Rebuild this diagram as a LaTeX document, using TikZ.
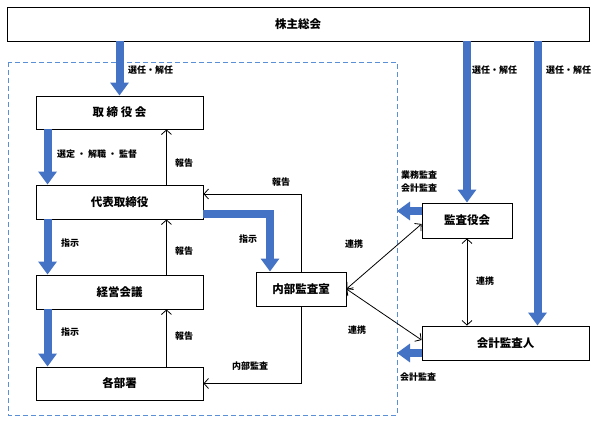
\documentclass[tikz,border=0pt]{standalone}
\usepackage{fontspec}
\newfontfamily\cjk{Noto Sans CJK JP}
\usetikzlibrary{arrows.meta,calc}
\definecolor{offblue}{HTML}{4472C4}
\definecolor{dashblue}{HTML}{5B8FD6}
\tikzset{
  box/.style={draw=black,line width=0.9pt,fill=white,minimum height=34pt,inner sep=0pt,font=\cjk\bfseries\fontsize{11.5}{13}\selectfont},
  lbl/.style={anchor=west,inner sep=0pt,font=\cjk\bfseries\fontsize{9}{11}\selectfont},
  bluearr/.style={draw=offblue,line width=8pt,line join=miter,-{Triangle[width=18pt,length=13pt]},color=offblue},
  thinarr/.style={draw=black,line width=0.8pt,-{Straight Barb[length=4.5pt,width=10pt]}},
  thinboth/.style={draw=black,line width=0.8pt,{Straight Barb[length=4.5pt,width=10pt]}-{Straight Barb[length=4.5pt,width=10pt]}},
  thinline/.style={draw=black,line width=0.8pt}
}
\begin{document}
\begin{tikzpicture}[x=1pt,y=-1pt]
\useasboundingbox (0,0) rectangle (603,422);
% dashed region
\draw[dashblue,line width=0.9pt,dash pattern=on 5pt off 3pt] (8,62) rectangle (397,415);
% boxes
\node[box,minimum width=582pt] (top) at (298,24) {株主総会};
\node[box,minimum width=167pt,minimum height=33pt] (tb) at (119.5,112.5) {取\ 締\ 役\ 会};
\node[box,minimum width=167pt] (dh) at (119.5,202) {代表取締役};
\node[box,minimum width=167pt] (kg) at (119.5,292) {経営会議};
\node[box,minimum width=167pt,minimum height=33pt] (kb) at (119.5,383.5) {各部署};
\node[box,minimum width=90pt] (nb) at (301,289) {内部監査室};
\node[box,minimum width=90pt,minimum height=35pt] (ka) at (467,220.5) {監査役会};
\node[box,minimum width=167pt] (kk) at (505.5,343) {会計監査人};
\coordinate (kaL) at (397,211);
\coordinate (kkL) at (397,353);
% blue arrows
\draw[bluearr] (top.south -| tb.north) -- (tb.north);
\draw[bluearr] (top.south -| ka.north) -- (ka.north);
\draw[bluearr] ([xshift=32pt]top.south -| kk.north) -- ([xshift=32pt]kk.north);
\draw[bluearr] ([xshift=12pt]tb.south west) -- ([xshift=12pt]dh.north west);
\draw[bluearr] ([xshift=12pt]dh.south west) -- ([xshift=12pt]kg.north west);
\draw[bluearr] ([xshift=12pt]kg.south west) -- ([xshift=12pt]kb.north west);
\draw[bluearr] ([yshift=-12pt]dh.east) -| ([xshift=-31pt]nb.north);
\draw[bluearr] (ka.west |- kaL) -- (kaL);
\draw[bluearr] (kk.west |- kkL) -- (kkL);
% thin arrows
\draw[thinarr] ([xshift=-37pt]dh.north east) -- ([xshift=-37pt]tb.south east);
\draw[thinarr] ([xshift=-37pt]kg.north east) -- ([xshift=-37pt]dh.south east);
\draw[thinarr] ([xshift=-37pt]kb.north east) -- ([xshift=-37pt]kg.south east);
\draw[thinarr] (nb.north) |- ([yshift=8pt]dh.east);
\draw[thinarr] (nb.south) |- (kb.east);
\draw[thinboth] (nb.east) -- ([yshift=-3.5pt]ka.west);
\draw[thinboth] (nb.east) -- ([yshift=3pt]kk.west);
\draw[thinboth] (ka.south) -- (ka.south |- kk.north);
% labels
\node[lbl] (l1) at (128,70) {選任・解任};
\node[lbl] (l2) at (472,70) {選任・解任};
\node[lbl] (l3) at (546,70) {選任・解任};
\node[lbl] (l4) at (57,154) {選定\hspace{2pt}・\hspace{2pt}解職\hspace{2pt}・\hspace{2pt}監督};
\node[lbl] (l5) at (175,163) {報告};
\node[lbl] (l6) at (175,251) {報告};
\node[lbl] (l7) at (175,336) {報告};
\node[lbl] (l8) at (61,243) {指示};
\node[lbl] (l9) at (61,332) {指示};
\node[lbl] (l10) at (239,239) {指示};
\node[lbl] (l11) at (272,182) {報告};
\node[lbl] (l12) at (232,366) {内部監査};
\node[lbl] (l13) at (345,244) {連携};
\node[lbl] (l14) at (348,330) {連携};
\node[lbl] (l15) at (476,281) {連携};
\node[lbl] (l16) at (401,175) {業務監査};
\node[lbl] (l17) at (401,188) {会計監査};
\node[lbl] (l18) at (400,377) {会計監査};
\end{tikzpicture}
\end{document}
